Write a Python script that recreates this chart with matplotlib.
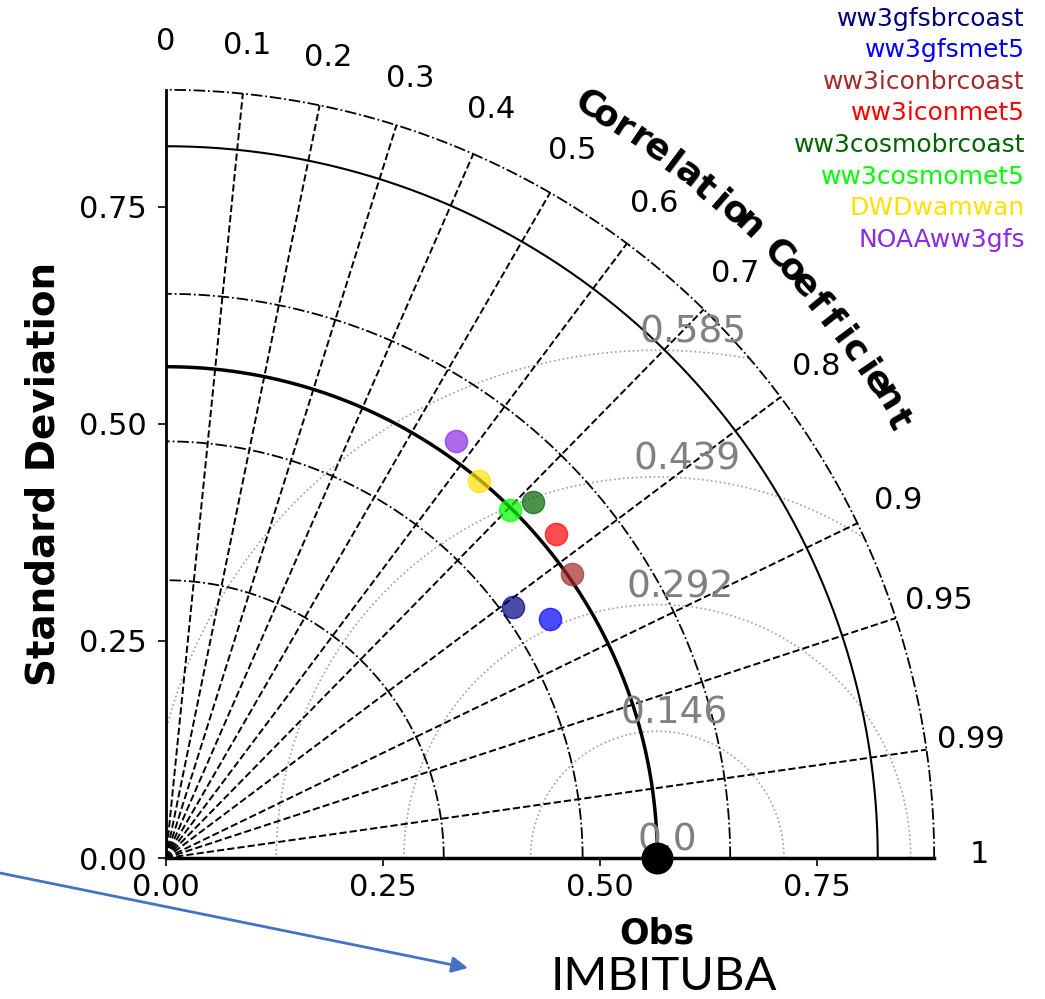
import numpy as np
import matplotlib.pyplot as plt
from matplotlib.lines import Line2D

# model statistics (std dev, correlation)
models = ['ww3gfsbrcoast', 'ww3gfsmet5', 'ww3iconbrcoast', 'ww3iconmet5',
          'ww3cosmobrcoast', 'ww3cosmomet5', 'DWDwamwan', 'NOAAww3gfs']
colors = ['navy', 'blue', 'brown', 'red', 'darkgreen', 'lime', '#ffe000', 'blueviolet']
sdev = [0.493, 0.521, 0.571, 0.584, 0.589, 0.564, 0.565, 0.585]
ccoef = [0.810, 0.849, 0.820, 0.769, 0.718, 0.703, 0.639, 0.571]

obs_std = 0.566
rmax = 0.885
std_ticks = [0.0, 0.25, 0.50, 0.75]
std_arcs = [0.32, 0.48, 0.65]
extra_arc = 0.82
rms_levels = [0.146, 0.292, 0.439, 0.585]
cor_ticks = [0.1, 0.2, 0.3, 0.4, 0.5, 0.6, 0.7, 0.8, 0.9, 0.95, 0.99]
cor_labels = ['0', '0.1', '0.2', '0.3', '0.4', '0.5', '0.6', '0.7', '0.8',
              '0.9', '0.95', '0.99', '1']
cor_label_vals = [0.0] + cor_ticks + [1.0]

fig = plt.figure(figsize=(10.45, 9.99), dpi=100)
ax = fig.add_axes([166/1045, 141/999, rmax*868/1045, rmax*868/999])
ax.set_xlim(0, rmax)
ax.set_ylim(0, rmax)

th = np.linspace(0, np.pi/2, 400)

# correlation rays
for c in cor_ticks:
    a = np.arccos(c)
    ax.plot([0, rmax*np.cos(a)], [0, rmax*np.sin(a)], 'k--', lw=1.4, zorder=2)

# std arcs
for r in std_arcs:
    ax.plot(r*np.cos(th), r*np.sin(th), 'k-.', lw=1.3, zorder=2)
ax.plot(rmax*np.cos(th), rmax*np.sin(th), 'k-.', lw=1.3, zorder=2, clip_on=False)
ax.plot(extra_arc*np.cos(th), extra_arc*np.sin(th), 'k-', lw=1.5, zorder=2)
ax.plot(obs_std*np.cos(th), obs_std*np.sin(th), 'k-', lw=2.5, zorder=3)

# centred RMS contours
phi = np.linspace(0, np.pi, 600)
for r in rms_levels:
    x = obs_std + r*np.cos(phi)
    y = r*np.sin(phi)
    keep = (np.hypot(x, y) <= rmax) & (x >= 0)
    x = np.where(keep, x, np.nan)
    ax.plot(x, y, ls=':', color='#a0a0a0', lw=1.2, zorder=1)
for r in [0.0] + rms_levels:
    lab = '0.0' if r == 0 else '%g' % r
    ax.text(obs_std + 0.012 + 0.05*r, r + 0.02, lab, color='#808080',
            fontsize=27, ha='center', va='center', zorder=4)

# correlation tick labels
for c, lab in zip(cor_label_vals, cor_labels):
    a = np.arccos(c)
    ax.text(0.937*np.cos(a), 0.937*np.sin(a) + 0.004, lab, fontsize=22,
            ha='center', va='center', clip_on=False)

# correlation axis title along the arc
title = 'Correlation Coefficient'
angs = np.linspace(60, 30, len(title))
dd = 1.1*rmax
for ch, ang in zip(title, angs):
    ax.text(dd*np.cos(np.radians(ang)), dd*np.sin(np.radians(ang)), ch,
            rotation=ang - 90, ha='center', va='bottom', fontsize=26,
            fontweight='bold', clip_on=False)

# model points
for s, c, col in zip(sdev, ccoef, colors):
    ax.plot(s*c, s*np.sin(np.arccos(c)), 'o', ms=16, color=col, alpha=0.7,
            zorder=5)
ax.plot(obs_std, 0, 'o', ms=22, color='k', zorder=6, clip_on=False)
ax.text(obs_std, -0.087, 'Obs', fontsize=25, fontweight='bold',
        ha='center', va='center')

# axes styling
ax.set_xticks(std_ticks)
ax.set_yticks(std_ticks)
ax.set_xticklabels(['%.2f' % v for v in std_ticks])
ax.set_yticklabels(['%.2f' % v for v in std_ticks])
ax.tick_params(labelsize=22, length=6, width=1.2)
ax.tick_params(axis='x', pad=5)
ax.tick_params(axis='y', pad=8)
ax.spines['top'].set_visible(False)
ax.spines['right'].set_visible(False)
ax.spines['left'].set_linewidth(2)
ax.spines['bottom'].set_linewidth(2.5)
ax.set_ylabel('Standard Deviation', fontsize=28, fontweight='bold', labelpad=12)

# legend (text only, right aligned)
handles = [Line2D([], [], ls='none') for _ in models]
fig.legend(handles, models, loc='upper right',
           bbox_to_anchor=(1025/1045, 1 - 7/999), frameon=False,
           handlelength=0, handletextpad=0, markerfirst=False,
           labelcolor=colors, fontsize=18, labelspacing=0.3,
           borderpad=0, borderaxespad=0)

# annotation arrow and station name
ax.annotate('', xy=(468, 999 - 968), xytext=(0, 999 - 873),
            xycoords='figure pixels', textcoords='figure pixels',
            arrowprops=dict(arrowstyle='-|>', color='#4472C4', lw=2,
                            mutation_scale=24, shrinkA=0, shrinkB=0),
            annotation_clip=False)
fig.text(664/1045, 1/999, 'IMBITUBA', ha='center', va='bottom',
         fontsize=34, family='Lato')

fig.savefig('out.png', dpi=100)
